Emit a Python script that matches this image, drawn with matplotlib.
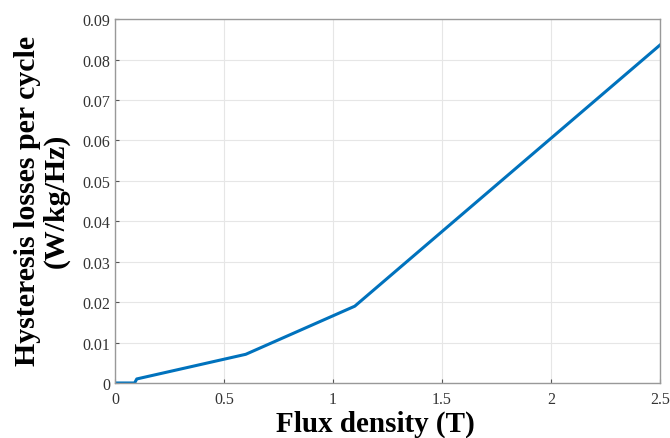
import numpy as np
import matplotlib.pyplot as plt

flux = [0, 0.09, 0.1, 0.6, 1.1, 2.5]
loss = [0, 0, 0.001, 0.0071, 0.019, 0.0836]
xticks = [0, 0.5, 1, 1.5, 2, 2.5]
xlabels = ['0', '0.5', '1', '1.5', '2', '2.5']
yticks = [0, 0.01, 0.02, 0.03, 0.04, 0.05, 0.06, 0.07, 0.08, 0.09]
ylabels = ['0', '0.01', '0.02', '0.03', '0.04', '0.05', '0.06', '0.07', '0.08', '0.09']

plt.rcParams['font.family'] = ['Liberation Serif', 'DejaVu Serif']

fig = plt.figure(figsize=(6.7, 4.39), dpi=100)
ax = fig.add_axes([0.1716, 0.1253, 0.8134, 0.8287])

ax.plot(flux, loss, color='#0072BD', linewidth=2.2)

ax.set_xlim(0, 2.5)
ax.set_ylim(0, 0.09)
ax.set_xticks(xticks)
ax.set_xticklabels(xlabels)
ax.set_yticks(yticks)
ax.set_yticklabels(ylabels)
ax.grid(True, color='#e6e6e6', linewidth=0.8)
ax.set_axisbelow(True)
ax.tick_params(direction='in', length=3, colors='#555555', labelsize=11.5, labelcolor='#333333')
ax.tick_params(axis='x', pad=6)
for s in ax.spines.values():
    s.set_color('#999999')
    s.set_linewidth(1.0)

# axis titles placed on the figure to match the reference
fig.text(375 / 670, 1 - 424 / 439, 'Flux density (T)', fontsize=21, fontweight='bold',
         ha='center', va='center')
fig.text(42 / 670, 1 - 201 / 439, 'Hysteresis losses per cycle\n(W/kg/Hz)', fontsize=21.5,
         fontweight='bold', rotation=90, ha='center', va='center', linespacing=1.1,
         multialignment='center')

fig.savefig('out.png', dpi=100)
